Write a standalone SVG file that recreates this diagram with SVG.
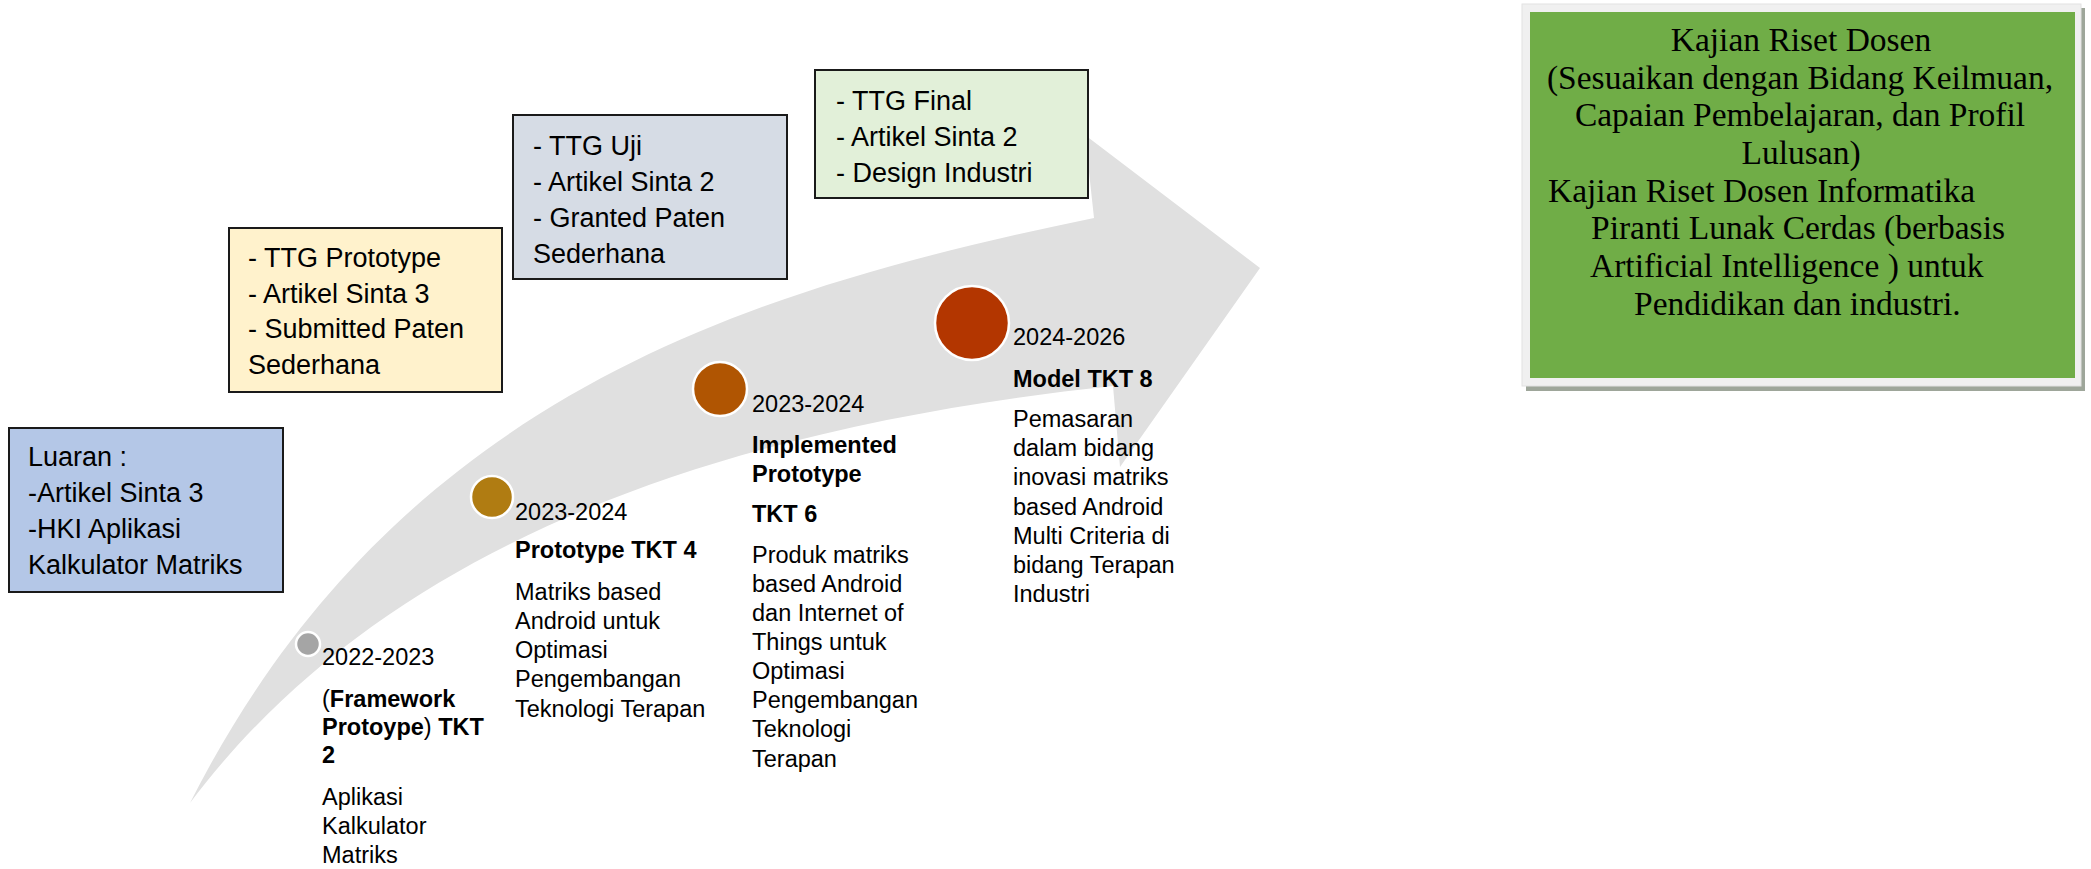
<svg xmlns="http://www.w3.org/2000/svg" width="2091" height="869" viewBox="0 0 2091 869">
<style>
  .box { stroke: #1a1a1a; stroke-width: 2; }
  .bt { font-family: "Liberation Sans", Arial, sans-serif; font-size: 27px; fill: #000; }
  .t { font-family: "Liberation Sans", Arial, sans-serif; font-size: 23.5px; fill: #000; }
  .b { font-weight: bold; }
  .n { font-weight: normal; }
  .sr { font-family: "Liberation Serif", "Times New Roman", serif; font-size: 33.5px; fill: #000; }
  .dot { stroke: #ffffff; stroke-width: 2.5; }
</style>
<rect width="2091" height="869" fill="#ffffff"/>

<g id="connectors">
  <path id="timeline-arrow" fill="#e0e0e0"
    d="M190,803 C397,394 751,289 1094,218 L1085,135 L1260,268 L1120,467 L1113,386 C715,428 382,547 190,803 Z"/>
</g>

<g id="box-luaran">
  <rect class="box" x="9" y="428" width="274" height="164" fill="#b4c7e7"/>
  <text class="bt" x="28" y="466">Luaran :</text>
  <text class="bt" x="28" y="502">-Artikel Sinta 3</text>
  <text class="bt" x="28" y="538">-HKI Aplikasi</text>
  <text class="bt" x="28" y="574">Kalkulator Matriks</text>
</g>

<g id="box-tkt4-output">
  <rect class="box" x="229" y="228" width="273" height="164" fill="#fff2cc"/>
  <text class="bt" x="248" y="267">- TTG Prototype</text>
  <text class="bt" x="248" y="303">- Artikel Sinta 3</text>
  <text class="bt" x="248" y="338">- Submitted Paten</text>
  <text class="bt" x="248" y="374">Sederhana</text>
</g>

<g id="box-tkt6-output">
  <rect class="box" x="513" y="115" width="274" height="164" fill="#d6dce5"/>
  <text class="bt" x="533" y="155">- TTG Uji</text>
  <text class="bt" x="533" y="191">- Artikel Sinta 2</text>
  <text class="bt" x="533" y="227">- Granted Paten</text>
  <text class="bt" x="533" y="263">Sederhana</text>
</g>

<g id="box-tkt8-output">
  <rect class="box" x="815" y="70" width="273" height="128" fill="#e2f0d9"/>
  <text class="bt" x="836" y="110">- TTG Final</text>
  <text class="bt" x="836" y="146">- Artikel Sinta 2</text>
  <text class="bt" x="836" y="182">- Design Industri</text>
</g>

<g id="box-kajian">
  <rect x="1526" y="8" width="559" height="383" fill="#9ea69a"/>
  <rect x="1522" y="4" width="559" height="382" fill="#f0f0f0" stroke="#e2e2e2" stroke-width="1"/>
  <rect x="1530" y="12" width="545" height="366" fill="#70ad47"/>
  <text class="sr" x="1801" y="51" text-anchor="middle">Kajian Riset Dosen</text>
  <text class="sr" x="1800" y="89" text-anchor="middle">(Sesuaikan dengan Bidang Keilmuan,</text>
  <text class="sr" x="1800" y="126" text-anchor="middle">Capaian Pembelajaran, dan Profil</text>
  <text class="sr" x="1801" y="164" text-anchor="middle">Lulusan)</text>
  <text class="sr" x="1548" y="202">Kajian Riset Dosen Informatika</text>
  <text class="sr" x="1591" y="239">Piranti Lunak Cerdas (berbasis</text>
  <text class="sr" x="1590" y="277">Artificial Intelligence ) untuk</text>
  <text class="sr" x="1634" y="315">Pendidikan dan industri.</text>
</g>

<g id="milestone-1">
  <circle class="dot" cx="308" cy="644" r="12" fill="#a5a5a5"/>
  <text class="t" x="322" y="665">2022-2023</text>
  <text class="t" x="322" y="707">(<tspan class="b">Framework</tspan></text>
  <text class="t b" x="322" y="735">Protoype<tspan class="n">)</tspan> TKT</text>
  <text class="t b" x="322" y="763">2</text>
  <text class="t" x="322" y="805">Aplikasi</text>
  <text class="t" x="322" y="834">Kalkulator</text>
  <text class="t" x="322" y="863">Matriks</text>
</g>

<g id="milestone-2">
  <circle class="dot" cx="492" cy="497" r="21" fill="#b07c12"/>
  <text class="t" x="515" y="520">2023-2024</text>
  <text class="t b" x="515" y="558">Prototype TKT 4</text>
  <text class="t" x="515" y="600">Matriks based</text>
  <text class="t" x="515" y="629">Android untuk</text>
  <text class="t" x="515" y="658">Optimasi</text>
  <text class="t" x="515" y="687">Pengembangan</text>
  <text class="t" x="515" y="717">Teknologi Terapan</text>
</g>

<g id="milestone-3">
  <circle class="dot" cx="720" cy="389" r="27" fill="#b05502"/>
  <text class="t" x="752" y="412">2023-2024</text>
  <text class="t b" x="752" y="453">Implemented</text>
  <text class="t b" x="752" y="482">Prototype</text>
  <text class="t b" x="752" y="522">TKT 6</text>
  <text class="t" x="752" y="563">Produk matriks</text>
  <text class="t" x="752" y="592">based Android</text>
  <text class="t" x="752" y="621">dan Internet of</text>
  <text class="t" x="752" y="650">Things untuk</text>
  <text class="t" x="752" y="679">Optimasi</text>
  <text class="t" x="752" y="708">Pengembangan</text>
  <text class="t" x="752" y="737">Teknologi</text>
  <text class="t" x="752" y="767">Terapan</text>
</g>

<g id="milestone-4">
  <circle class="dot" cx="972" cy="323" r="37" fill="#b33600"/>
  <text class="t" x="1013" y="345">2024-2026</text>
  <text class="t b" x="1013" y="387">Model TKT 8</text>
  <text class="t" x="1013" y="427">Pemasaran</text>
  <text class="t" x="1013" y="456">dalam bidang</text>
  <text class="t" x="1013" y="485">inovasi matriks</text>
  <text class="t" x="1013" y="515">based Android</text>
  <text class="t" x="1013" y="544">Multi Criteria di</text>
  <text class="t" x="1013" y="573">bidang Terapan</text>
  <text class="t" x="1013" y="602">Industri</text>
</g>
</svg>
